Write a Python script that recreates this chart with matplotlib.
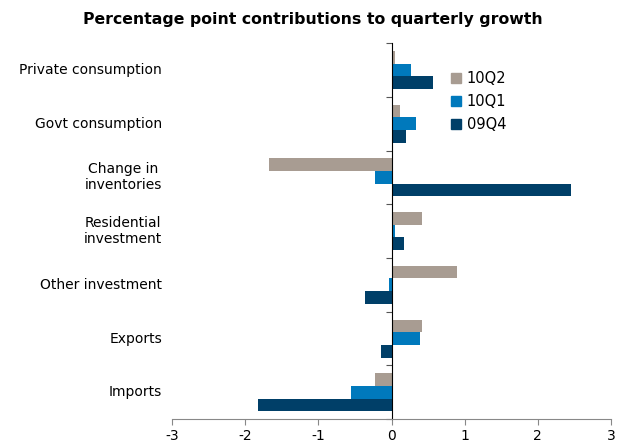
import matplotlib.pyplot as plt
import numpy as np
from matplotlib.patches import Patch
from matplotlib.transforms import blended_transform_factory

# Colores de las series
COLOR_10Q2 = '#A89C92'
COLOR_10Q1 = '#0079BC'
COLOR_09Q4 = '#003F68'

categories = ['Private consumption', 'Govt consumption', 'Change in\ninventories',
              'Residential\ninvestment', 'Other investment', 'Exports', 'Imports']
series_names = ['10Q2', '10Q1', '09Q4']
q2_2010 = [0.05, 0.11, -1.68, 0.41, 0.89, 0.42, -0.22]
q1_2010 = [0.26, 0.33, -0.22, 0.05, -0.04, 0.39, -0.56]
q4_2009 = [0.56, 0.20, 2.46, 0.17, -0.36, -0.14, -1.83]
x_ticks = [-3, -2, -1, 0, 1, 2, 3]

fig = plt.figure(figsize=(6.26, 4.44), dpi=100)
ax = fig.add_axes([0.275, 0.056, 0.701, 0.847])

y = np.arange(len(categories))
h = 0.236
ax.barh(y - h, q2_2010, height=h, color=COLOR_10Q2)
ax.barh(y, q1_2010, height=h, color=COLOR_10Q1)
ax.barh(y + h, q4_2009, height=h, color=COLOR_09Q4)

ax.set_ylim(len(categories) - 0.5, -0.5)
ax.set_xlim(-3, 3)
ax.set_xticks(x_ticks)
ax.set_xticklabels([str(t) for t in x_ticks], fontsize=10)

# eje vertical en el cero, marcas en los limites de categoria
ax.spines['left'].set_position(('data', 0))
ax.spines['left'].set_color('black')
ax.spines['top'].set_visible(False)
ax.spines['right'].set_visible(False)
ax.spines['bottom'].set_color('#888888')
ax.set_yticks(np.arange(len(categories) + 1) - 0.5)
ax.set_yticklabels([])
ax.tick_params(axis='y', length=4, color='#555555', direction='out')
ax.tick_params(axis='x', length=4, color='#888888', direction='out', pad=3)

trans = blended_transform_factory(fig.transFigure, ax.transData)
for yi, lab in zip(y, categories):
    ax.text(162 / 626, yi, lab, transform=trans, ha='right', va='center',
            multialignment='center', fontsize=10)

handles = [Patch(color=c) for c in [COLOR_10Q2, COLOR_10Q1, COLOR_09Q4]]
ax.legend(handles, series_names, loc='upper left', bbox_to_anchor=(0.605, 0.96),
          frameon=False, fontsize=10.5, handlelength=0.7, handleheight=0.7,
          handletextpad=0.4, labelspacing=0.55)

fig.text(0.5, 0.955, 'Percentage point contributions to quarterly growth',
         ha='center', va='center', fontsize=11.3, fontweight='bold')

fig.savefig('out.png', dpi=100)
